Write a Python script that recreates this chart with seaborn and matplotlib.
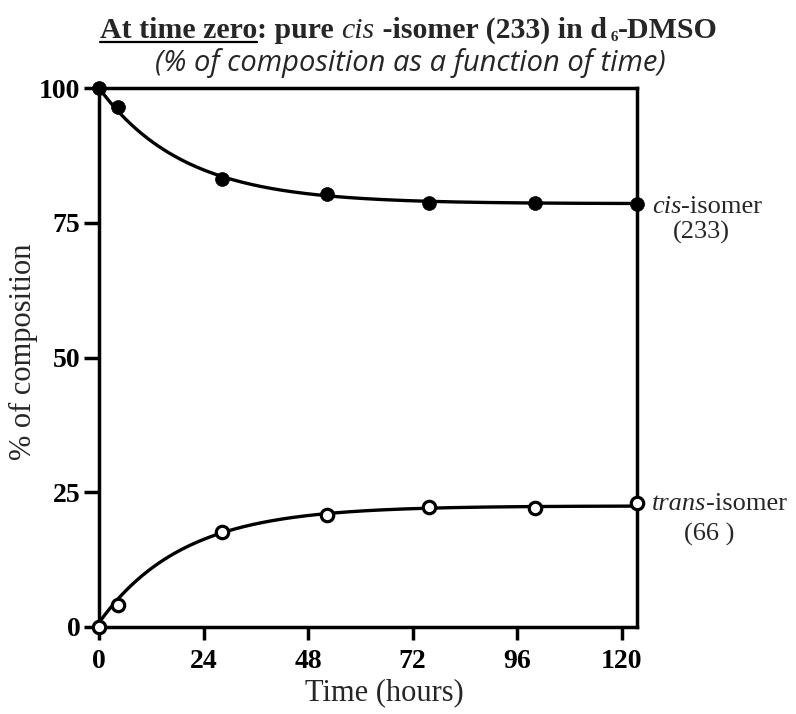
import numpy as np
import pandas as pd
import matplotlib
matplotlib.use("Agg")
import matplotlib.pyplot as plt
import seaborn as sns

# Sampling times (hours) and measured composition (%)
time_h = [0, 4.4, 28.2, 52.4, 75.8, 100.1, 123.5]
cis_pct = [100.0, 96.5, 83.1, 80.3, 78.6, 78.6, 78.4]
trans_pct = [0.0, 4.1, 17.6, 20.8, 22.3, 22.1, 23.0]

x_ticks = [0, 24, 48, 72, 96, 120]
y_ticks = [0, 25, 50, 75, 100]

SERIF = "Liberation Serif"

sns.set_theme(style="white")
plt.rcParams["font.family"] = [SERIF, "DejaVu Serif"]


def first_order_fit(t, y, start, end):
    """Least-squares rate constant for y = start + (end - start)(1 - exp(-k t))."""
    t = np.asarray(t, float)
    y = np.asarray(y, float)
    ks = np.linspace(0.005, 0.3, 3000)
    err = [np.sum((start + (end - start) * (1 - np.exp(-k * t)) - y) ** 2) for k in ks]
    return ks[int(np.argmin(err))]


t_fine = np.linspace(0, time_h[-1], 300)
cis_end = float(np.mean(cis_pct[-3:]))
trans_end = float(np.mean(trans_pct[-3:]))
k_cis = first_order_fit(time_h, cis_pct, 100.0, cis_end)
k_trans = first_order_fit(time_h, trans_pct, 0.0, trans_end)
cis_fit = 100.0 + (cis_end - 100.0) * (1 - np.exp(-k_cis * t_fine))
trans_fit = 0.8 + (trans_end - 0.8) * (1 - np.exp(-k_trans * t_fine))

points = pd.DataFrame({"t": time_h, "cis": cis_pct, "trans": trans_pct})
curves = pd.DataFrame({"t": t_fine, "cis": cis_fit, "trans": trans_fit})

fig = plt.figure(figsize=(7.96, 7.14), dpi=100)
ax = fig.add_axes([99 / 796, 1 - 627 / 714, (637 - 99) / 796, (627 - 88) / 714])

lw = 2.4
sns.lineplot(data=curves, x="t", y="cis", ax=ax, color="black", linewidth=lw)
sns.lineplot(data=curves, x="t", y="trans", ax=ax, color="black", linewidth=lw)
sns.scatterplot(data=points, x="t", y="cis", ax=ax, s=100, color="black",
                edgecolor="black", linewidth=0.5, zorder=5, clip_on=False)
sns.scatterplot(data=points, x="t", y="trans", ax=ax, s=80, color="white",
                edgecolor="black", linewidth=2.3, zorder=5, clip_on=False)
for coll in ax.collections:
    coll.set_clip_on(False)
for ln in ax.lines:
    ln.set_clip_on(False)

ax.set_xlim(0, time_h[-1])
ax.set_ylim(0, 100)
ax.set_xticks(x_ticks)
ax.set_yticks(y_ticks)
ax.set_xticklabels([str(v) for v in x_ticks], fontsize=20, fontweight="bold")
ax.set_yticklabels([str(v) for v in y_ticks], fontsize=20, fontweight="bold")
ax.tick_params(axis="x", direction="out", length=9.5, width=2.5, pad=6, colors="black")
ax.tick_params(axis="y", direction="out", length=10.5, width=2.5, pad=3, colors="black")
ax.tick_params(bottom=True, left=True)
for side in ["left", "right", "top", "bottom"]:
    ax.spines[side].set_visible(True)
    ax.spines[side].set_color("black")
    ax.spines[side].set_linewidth(2.5)

ax.set_xlabel("Time (hours)", fontsize=22)
ax.set_ylabel("% of composition", fontsize=22)
ax.xaxis.set_label_coords((384 - 99) / (637 - 99), -(693 - 627) / (627 - 88))
ax.xaxis.label.set_va("center")
ax.yaxis.set_label_coords(-(99 - 23) / (637 - 99), (627 - 352) / (627 - 88))
ax.yaxis.label.set_va("center")
ax.grid(False)

fig.canvas.draw()
renderer = fig.canvas.get_renderer()


def run_of_text(pieces, x_px, y_px, align="left"):
    """Lay out styled text pieces side by side in figure pixel coordinates.

    Each piece: (text, size, weight, style, dy_px) with dy_px measured downward.
    """
    artists = []
    widths = []
    for txt, size, weight, style, dy in pieces:
        a = fig.text(0, 0, txt, fontsize=size, fontweight=weight, fontstyle=style,
                     family=[SERIF, "DejaVu Serif"], ha="left", va="baseline")
        artists.append(a)
        widths.append(a.get_window_extent(renderer).width)
    total = sum(widths)
    x = x_px - total / 2 if align == "center" else x_px
    H = fig.bbox.height
    for a, w, (_, _, _, _, dy) in zip(artists, widths, pieces):
        a.set_position((x / fig.bbox.width, (H - y_px - dy) / H))
        x += w
    return artists, widths


# Title with underlined lead-in
title_y = 38
arts, ws = run_of_text([
    ("At time zero", 21.5, "bold", "normal", 0),
    (": pure ", 21.5, "bold", "normal", 0),
    ("cis", 21.5, "normal", "italic", 0),
    (" -isomer (233) in d", 21.5, "bold", "normal", 0),
    (" 6", 11, "bold", "normal", 3),
    ("-DMSO", 21.5, "bold", "normal", 0),
], 409, title_y, align="center")
fig.canvas.draw()
bb = arts[0].get_window_extent(renderer)
H = fig.bbox.height
uy = (H - title_y - 4) / H
fig.add_artist(plt.Line2D([bb.x0 / fig.bbox.width, bb.x1 / fig.bbox.width], [uy, uy],
                          color="black", linewidth=1.6, transform=fig.transFigure))

fig.text(410 / 796, 1 - 63 / 714, "(% of composition as a function of time)",
         fontsize=21, fontstyle="italic", family=["Open Sans", "DejaVu Sans"],
         ha="center", va="center")

# Series labels at the right edge
run_of_text([("cis", 19, "normal", "italic", 0), ("-isomer", 19, "normal", "normal", 0)],
            652, 213)
fig.text(701 / 796, 1 - 232 / 714, "(233)", fontsize=19, ha="center", va="center",
         family=[SERIF, "DejaVu Serif"])
run_of_text([("trans", 19, "normal", "italic", 0), ("-isomer", 19, "normal", "normal", 0)],
            652, 510)
fig.text(709 / 796, 1 - 534 / 714, "(66 )", fontsize=19, ha="center", va="center",
         family=[SERIF, "DejaVu Serif"])

fig.savefig("out.png", dpi=100, facecolor="white")
